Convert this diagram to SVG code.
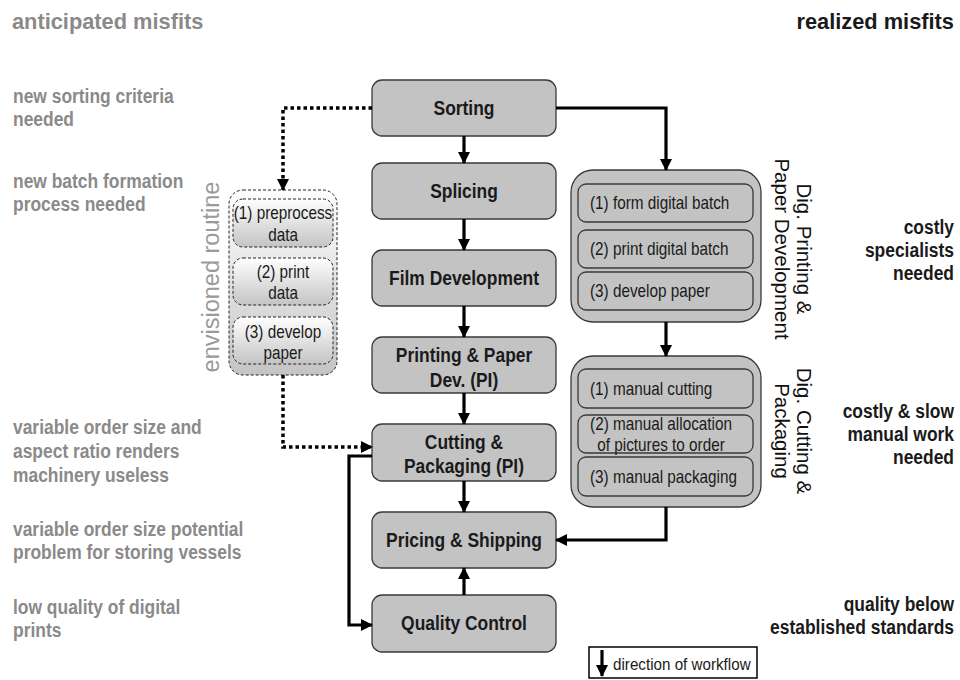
<svg xmlns="http://www.w3.org/2000/svg" width="960" height="680" viewBox="0 0 960 680">
<style>
text{font-family:"Liberation Sans","Arial",sans-serif;}
.hdr{font-size:21.8px;font-weight:bold;}
.side{font-size:20.5px;font-weight:bold;}
.gray{fill:#8a8a8a;}
.dark{fill:#1a1a1a;}
.node{fill:#c3c3c3;stroke:#3a3a3a;stroke-width:1.3;}
.lbl{font-size:20.5px;font-weight:bold;fill:#1a1a1a;text-anchor:middle;}
.sub{font-size:18px;fill:#1a1a1a;}
.mid{text-anchor:middle;}
.end{text-anchor:end;}
.rot{font-size:20.5px;fill:#111;text-anchor:middle;}
.env{fill:url(#g);stroke:#222;stroke-width:1;stroke-dasharray:3 2;}
.conn{fill:none;stroke:#000;stroke-width:3.2;}
.dot{fill:none;stroke:#000;stroke-width:3.5;stroke-dasharray:3.5 3;}
</style>
<defs>
<linearGradient id="g" x1="0" y1="0" x2="0" y2="1">
<stop offset="0" stop-color="#ffffff"/>
<stop offset="1" stop-color="#c4c4c4"/>
</linearGradient>
<marker id="ah" markerUnits="userSpaceOnUse" markerWidth="12" markerHeight="12" viewBox="0 0 12 12" refX="11" refY="6" orient="auto">
<path d="M0,0 L12,6 L0,12 z" fill="#000"/>
</marker>
</defs>

<g id="headers">
<text class="hdr gray" x="12" y="29">anticipated misfits</text>
<text class="hdr dark" x="954" y="29" text-anchor="end">realized misfits</text>
</g>

<g id="anticipated">
<text class="side gray" transform="translate(13 103) scale(0.85 1)">new sorting criteria</text>
<text class="side gray" transform="translate(13 126) scale(0.85 1)">needed</text>
<text class="side gray" transform="translate(13 188) scale(0.85 1)">new batch formation</text>
<text class="side gray" transform="translate(13 211) scale(0.85 1)">process needed</text>
<text class="side gray" transform="translate(13 434) scale(0.85 1)">variable order size and</text>
<text class="side gray" transform="translate(13 458) scale(0.85 1)">aspect ratio renders</text>
<text class="side gray" transform="translate(13 482) scale(0.85 1)">machinery useless</text>
<text class="side gray" transform="translate(13 536) scale(0.85 1)">variable order size potential</text>
<text class="side gray" transform="translate(13 559) scale(0.85 1)">problem for storing vessels</text>
<text class="side gray" transform="translate(13 614) scale(0.85 1)">low quality of digital</text>
<text class="side gray" transform="translate(13 637) scale(0.85 1)">prints</text>
</g>

<g id="realized">
<text class="side dark end" transform="translate(954 234) scale(0.85 1)">costly</text>
<text class="side dark end" transform="translate(954 257) scale(0.85 1)">specialists</text>
<text class="side dark end" transform="translate(954 280) scale(0.85 1)">needed</text>
<text class="side dark end" transform="translate(954 418) scale(0.85 1)">costly &amp; slow</text>
<text class="side dark end" transform="translate(954 441) scale(0.85 1)">manual work</text>
<text class="side dark end" transform="translate(954 464) scale(0.85 1)">needed</text>
<text class="side dark end" transform="translate(954 611) scale(0.85 1)">quality below</text>
<text class="side dark end" transform="translate(954 634) scale(0.85 1)">established standards</text>
</g>

<g id="envisioned-routine">
<rect class="env" x="229" y="190" width="108" height="185" rx="14"/>
<rect class="env" x="233" y="199" width="100" height="48" rx="10"/>
<rect class="env" x="233" y="258" width="100" height="47" rx="10"/>
<rect class="env" x="233" y="317" width="100" height="47" rx="10"/>
<text class="sub mid" transform="translate(283 219) scale(0.85 1)">(1) preprocess</text>
<text class="sub mid" transform="translate(283 241) scale(0.85 1)">data</text>
<text class="sub mid" transform="translate(283 278) scale(0.85 1)">(2) print</text>
<text class="sub mid" transform="translate(283 299) scale(0.85 1)">data</text>
<text class="sub mid" transform="translate(283 338) scale(0.85 1)">(3) develop</text>
<text class="sub mid" transform="translate(283 359) scale(0.85 1)">paper</text>
<text transform="translate(219 277) rotate(-90)" text-anchor="middle" font-size="23.5" fill="#9a9a9a">envisioned routine</text>
</g>

<g id="sorting">
<rect class="node" x="372" y="80" width="184" height="56" rx="10"/>
<text class="lbl" transform="translate(464 115) scale(0.85 1)">Sorting</text>
</g>
<g id="splicing">
<rect class="node" x="372" y="163" width="184" height="56" rx="10"/>
<text class="lbl" transform="translate(464 198) scale(0.85 1)">Splicing</text>
</g>
<g id="film-development">
<rect class="node" x="372" y="250" width="184" height="56" rx="10"/>
<text class="lbl" transform="translate(464 285) scale(0.85 1)">Film Development</text>
</g>
<g id="printing-paper-dev">
<rect class="node" x="372" y="337" width="184" height="56" rx="10"/>
<text class="lbl" transform="translate(464 362) scale(0.85 1)">Printing &amp; Paper</text>
<text class="lbl" transform="translate(464 387) scale(0.85 1)">Dev. (PI)</text>
</g>
<g id="cutting-packaging">
<rect class="node" x="372" y="424" width="184" height="57" rx="10"/>
<text class="lbl" transform="translate(464 449) scale(0.85 1)">Cutting &amp;</text>
<text class="lbl" transform="translate(464 473) scale(0.85 1)">Packaging (PI)</text>
</g>
<g id="pricing-shipping">
<rect class="node" x="372" y="512" width="184" height="56" rx="10"/>
<text class="lbl" transform="translate(464 547) scale(0.85 1)">Pricing &amp; Shipping</text>
</g>
<g id="quality-control">
<rect class="node" x="372" y="595" width="184" height="57" rx="10"/>
<text class="lbl" transform="translate(464 630) scale(0.85 1)">Quality Control</text>
</g>

<g id="dig-printing">
<rect class="node" x="571" y="170" width="190" height="152" rx="22"/>
<rect class="node" x="578" y="184" width="175" height="38" rx="8"/>
<rect class="node" x="578" y="230" width="175" height="38" rx="8"/>
<rect class="node" x="578" y="272" width="175" height="38" rx="8"/>
<text class="sub" transform="translate(590 209) scale(0.85 1)">(1) form digital batch</text>
<text class="sub" transform="translate(590 255) scale(0.85 1)">(2) print digital batch</text>
<text class="sub" transform="translate(590 297) scale(0.85 1)">(3) develop paper</text>
<text class="rot" transform="translate(797 249) rotate(90)">Dig. Printing &amp;</text>
<text class="rot" transform="translate(775 249) rotate(90)">Paper Development</text>
</g>

<g id="dig-cutting">
<rect class="node" x="571" y="356" width="190" height="151" rx="22"/>
<rect class="node" x="578" y="369" width="175" height="39" rx="8"/>
<rect class="node" x="578" y="415" width="175" height="38" rx="8"/>
<rect class="node" x="578" y="457" width="175" height="39" rx="8"/>
<text class="sub" transform="translate(590 395) scale(0.85 1)">(1) manual cutting</text>
<text class="sub mid" transform="translate(661 430) scale(0.85 1)">(2) manual allocation</text>
<text class="sub mid" transform="translate(661 451) scale(0.85 1)">of pictures to order</text>
<text class="sub" transform="translate(590 483) scale(0.85 1)">(3) manual packaging</text>
<text class="rot" transform="translate(797 431) rotate(90)">Dig. Cutting &amp;</text>
<text class="rot" transform="translate(775 431) rotate(90)">Packaging</text>
</g>

<g id="connectors">
<path class="conn" d="M464,136 V163" marker-end="url(#ah)"/>
<path class="conn" d="M464,219 V250" marker-end="url(#ah)"/>
<path class="conn" d="M464,306 V337" marker-end="url(#ah)"/>
<path class="conn" d="M464,393 V424" marker-end="url(#ah)"/>
<path class="conn" d="M464,481 V512" marker-end="url(#ah)"/>
<path class="conn" d="M464,595 V568" marker-end="url(#ah)"/>
<path class="conn" d="M556,108 H666 V170" marker-end="url(#ah)"/>
<path class="conn" d="M666,322 V356" marker-end="url(#ah)"/>
<path class="conn" d="M666,507 V540 H556" marker-end="url(#ah)"/>
<path class="conn" d="M372,456 H349 V625 H372" marker-end="url(#ah)"/>
<path class="dot" d="M372,108 H283 V190" marker-end="url(#ah)"/>
<path class="dot" d="M283,375 V447 H372" marker-end="url(#ah)"/>
</g>

<g id="legend">
<rect x="589" y="647" width="168" height="31" fill="#fff" stroke="#000" stroke-width="1.5"/>
<path class="conn" d="M602,650 V676" marker-end="url(#ah)"/>
<text transform="translate(613 670) scale(0.95 1)" font-size="16" fill="#1a1a1a">direction of workflow</text>
</g>
</svg>
